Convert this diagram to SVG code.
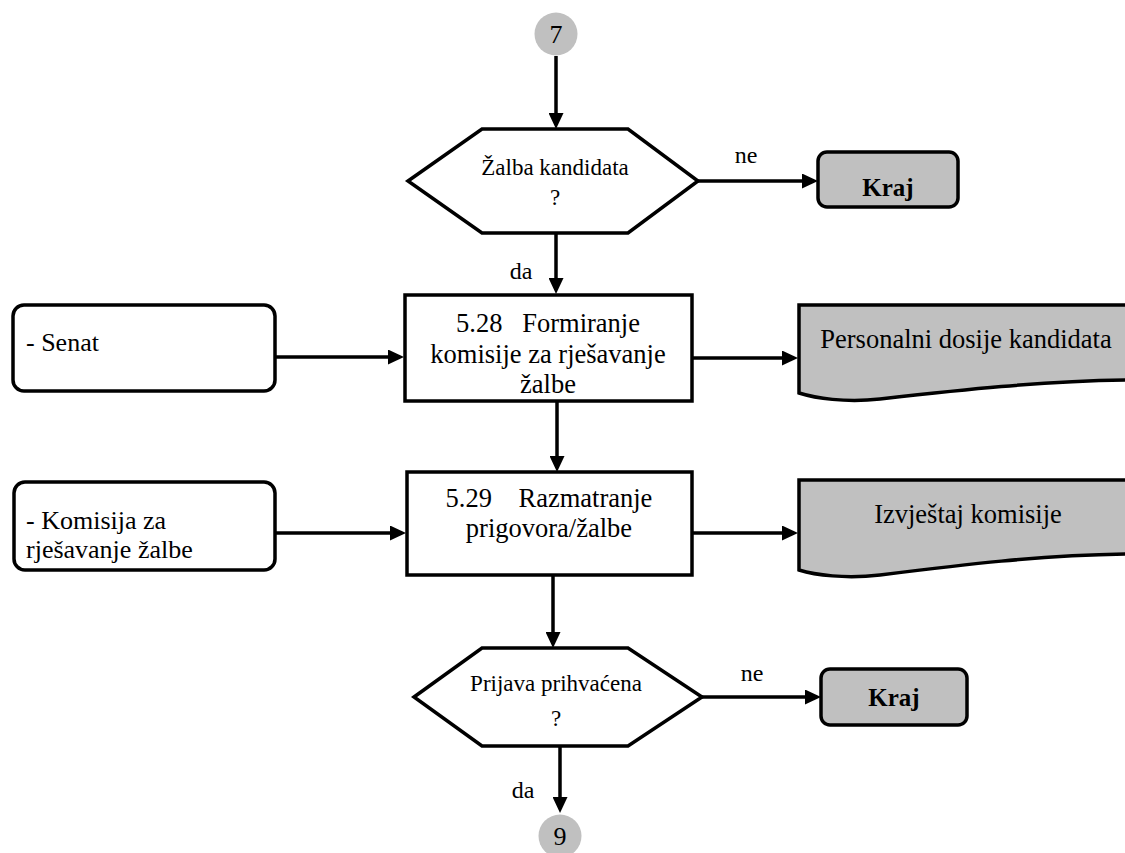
<svg xmlns="http://www.w3.org/2000/svg" width="1125" height="853" viewBox="0 0 1125 853">
<defs>
<marker id="ah" markerUnits="userSpaceOnUse" markerWidth="16" markerHeight="15" refX="12" refY="7.5" orient="auto">
<path d="M0,0 L16,7.5 L0,15 Z" fill="#000"/>
</marker>
<style>
text{font-family:'Liberation Serif','Times New Roman','DejaVu Serif',serif;fill:#000}
.ln{stroke:#000;stroke-width:3.5;fill:none;marker-end:url(#ah)}
.box{fill:#fff;stroke:#000;stroke-width:3.5}
.gray{fill:#c0c0c0;stroke:#000;stroke-width:3.5}
.lbl{font-size:24px;text-anchor:middle}
.bt{font-size:26.5px;text-anchor:middle}
.ht{font-size:23px;text-anchor:middle}
.kr{font-size:25px;font-weight:bold;text-anchor:middle}
.num{font-size:26px;text-anchor:middle}
</style>
</defs>
<rect width="1125" height="853" fill="#fff"/>
<g id="connectors">
<line class="ln" x1="556" y1="56" x2="556" y2="125"/>
<line class="ln" x1="698" y1="181" x2="814" y2="181"/>
<line class="ln" x1="556" y1="233" x2="556" y2="290"/>
<line class="ln" x1="275" y1="357" x2="400" y2="357"/>
<line class="ln" x1="692" y1="358" x2="794" y2="358"/>
<line class="ln" x1="557" y1="401" x2="557" y2="468"/>
<line class="ln" x1="275" y1="533" x2="402" y2="533"/>
<line class="ln" x1="692" y1="533" x2="794" y2="533"/>
<line class="ln" x1="553" y1="575" x2="553" y2="644"/>
<line class="ln" x1="702" y1="697" x2="817" y2="697"/>
<line class="ln" x1="560" y1="746" x2="560" y2="809"/>
<text class="lbl" x="746" y="163">ne</text>
<text class="lbl" x="521" y="279">da</text>
<text class="lbl" x="752" y="681">ne</text>
<text class="lbl" x="523" y="798">da</text>
</g>
<g id="c7">
<circle cx="556" cy="34" r="21.5" fill="#c0c0c0"/>
<text class="num" x="556" y="43">7</text>
</g>
<g id="d1">
<polygon class="box" points="408,181 482,129 628,129 698,181 628,233 482,233"/>
<text class="ht" x="555" y="175">Žalba kandidata</text>
<text class="ht" x="555" y="205">?</text>
</g>
<g id="kraj1">
<rect class="gray" x="818" y="152" width="140" height="55" rx="9"/>
<text class="kr" x="888" y="196">Kraj</text>
</g>
<g id="senat">
<rect class="box" x="13" y="305" width="262" height="86" rx="11"/>
<text x="26" y="351" font-size="26">- Senat</text>
</g>
<g id="p528">
<rect class="box" x="405" y="295" width="287" height="106"/>
<text class="bt" x="548" y="332" xml:space="preserve">5.28   Formiranje</text>
<text class="bt" x="548" y="363">komisije za rješavanje</text>
<text class="bt" x="548" y="393">žalbe</text>
</g>
<g id="doc1">
<path class="gray" d="M799,305 H1130 V380 C1040,381 960,390 880,399 C845,403 815,398 799,393 Z"/>
<text class="bt" x="966" y="348">Personalni dosije kandidata</text>
</g>
<g id="komisija">
<rect class="box" x="14" y="482" width="261" height="88" rx="11"/>
<text x="26" y="529" font-size="26">- Komisija za</text>
<text x="26" y="558" font-size="26">rješavanje žalbe</text>
</g>
<g id="p529">
<rect class="box" x="407" y="472" width="285" height="103"/>
<text class="bt" x="549" y="507" xml:space="preserve">5.29    Razmatranje</text>
<text class="bt" x="549" y="537">prigovora/žalbe</text>
</g>
<g id="doc2">
<path class="gray" d="M799,480 H1130 V554 C1040,555 960,565 880,575 C845,579 815,575 799,570 Z"/>
<text class="bt" x="968" y="523">Izvještaj komisije</text>
</g>
<g id="d2">
<polygon class="box" points="414,697 482,648 628,648 702,697 628,746 482,746"/>
<text class="ht" x="556" y="691">Prijava prihvaćena</text>
<text class="ht" x="556" y="726">?</text>
</g>
<g id="kraj2">
<rect class="gray" x="821" y="669" width="146" height="56" rx="9"/>
<text class="kr" x="894" y="706">Kraj</text>
</g>
<g id="c9">
<circle cx="560" cy="836" r="21.5" fill="#c0c0c0"/>
<text class="num" x="560" y="845">9</text>
</g>
</svg>
